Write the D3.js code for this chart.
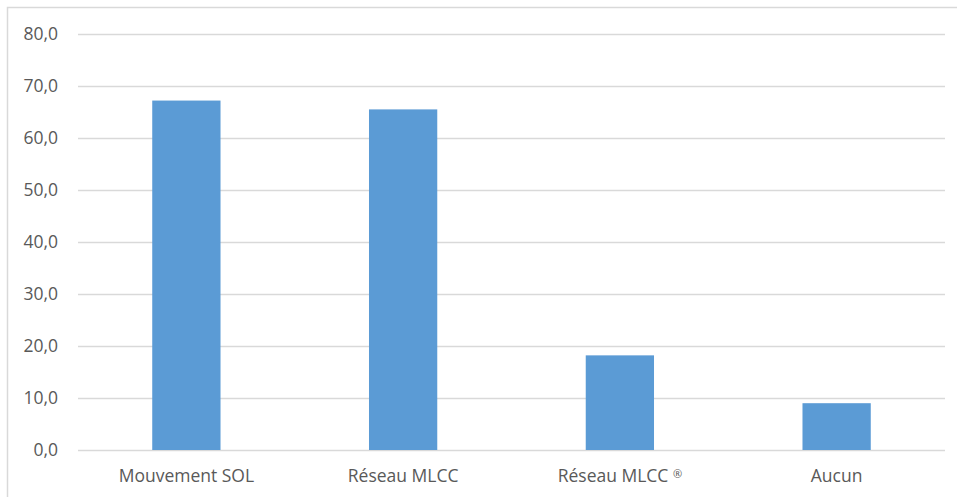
<!DOCTYPE html>
<html>
<head>
    <meta charset="utf-8">
    <title>Bar Chart</title>
    <style type="text/css">
    body { margin: 0; background: #fff; }
    </style>
</head>
<body>
    <script src="https://d3js.org/d3.v7.min.js"></script>
    <script>
      var categories = ["Mouvement SOL", "Réseau MLCC", "Réseau MLCC ®", "Aucun"];
      var values = [67.2, 65.5, 18.2, 9.0];
      var yTicks = [0, 10, 20, 30, 40, 50, 60, 70, 80];

      var W = 957, H = 497;
      var margin = {top: 34, right: 12, bottom: 47, left: 78},
          width  = W - margin.left - margin.right,
          height = H - margin.top - margin.bottom;

      var svg = d3.select("body")
          .append("svg")
          .attr("width", W)
          .attr("height", H);

      // outer frame (only top and left visible in the reference)
      svg.append("rect")
          .attr("x", 7.5).attr("y", 7.5)
          .attr("width", W + 10).attr("height", H + 10)
          .attr("fill", "none")
          .attr("stroke", "#d9d9d9")
          .attr("stroke-width", 1.5);

      var chart = svg.append("g")
          .attr("transform", "translate(" + margin.left + "," + margin.top + ")");

      var yScale = d3.scaleLinear().domain([0, 80]).range([height, 0]);
      var xScale = d3.scaleBand().domain(categories).range([0, width]).paddingInner(0.685).paddingOuter(0.3425);

      // gridlines
      chart.selectAll(".grid")
          .data(yTicks)
          .enter()
          .append("line")
          .attr("class", "grid")
          .attr("x1", 0).attr("x2", width)
          .attr("y1", function(d){ return Math.round(yScale(d)) + 0.5; })
          .attr("y2", function(d){ return Math.round(yScale(d)) + 0.5; })
          .attr("stroke", "#d9d9d9")
          .attr("stroke-width", 1.3);

      chart.selectAll(".bar")
          .data(values)
          .enter()
          .append("rect")
          .attr("class", "bar")
          .attr("x", function(d, i){ return xScale(categories[i]); })
          .attr("y", function(d){ return yScale(d); })
          .attr("width", xScale.bandwidth())
          .attr("height", function(d){ return height - yScale(d); })
          .attr("fill", "#5b9bd5");

      //y axis labels
      var yAxis = chart.append("g")
          .call(d3.axisLeft(yScale).tickValues(yTicks).tickSize(0).tickPadding(20)
              .tickFormat(function(d){ return d3.format(".1f")(d).replace(".", ","); }));
      yAxis.select(".domain").remove();
      yAxis.selectAll("text")
          .attr("fill", "#595959")
          .style("font-family", "'Open Sans', sans-serif")
          .style("font-size", "17.5px");

      //x axis labels
      var xAxis = chart.append("g")
          .attr("transform", "translate(0," + height + ")")
          .call(d3.axisBottom(xScale).tickSize(0).tickPadding(20));
      xAxis.select(".domain").remove();
      xAxis.selectAll("text")
          .attr("fill", "#595959")
          .style("font-family", "'Open Sans', sans-serif")
          .style("font-size", "17.5px")
          .each(function(d){
              // the ® is drawn small and raised, as in the reference
              if (d.indexOf("®") < 0) return;
              var t = d3.select(this).text(null);
              t.append("tspan").text(d.replace("®", ""));
              t.append("tspan").text("®").style("font-size", "11px").attr("dy", "-0.4em");
          });
    </script>
</body>
</html>
